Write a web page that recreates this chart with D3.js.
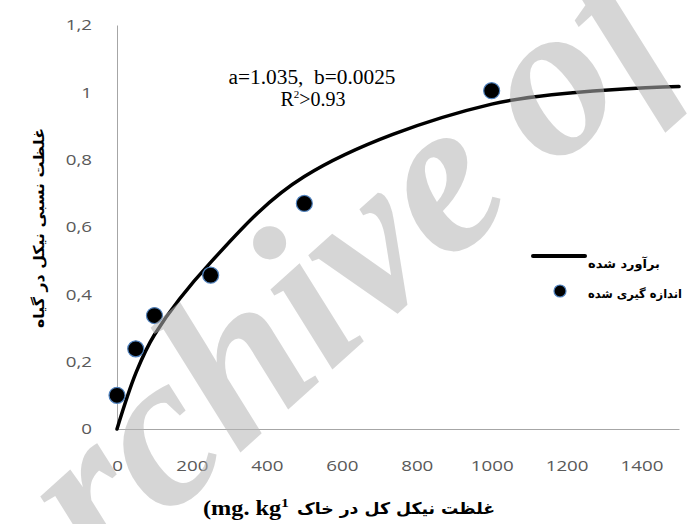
<!DOCTYPE html>
<html>
<head>
<meta charset="utf-8">
<script src="https://cdn.jsdelivr.net/npm/d3@7"></script>
<style>
  body { margin: 0; background: #fff; }
  svg { display: block; }
</style>
</head>
<body>
<div id="chart"></div>
<script>
// measured points (x = soil Ni, y = relative Ni in plant)
var measuredX = [0, 50, 100, 250, 500, 1000];
var measuredY = [0.1, 0.238, 0.337, 0.457, 0.67, 1.005];
// estimated curve
var fitX = [0, 50, 100, 250, 500, 1000, 1500];
var fitY = [0, 0.165, 0.28, 0.495, 0.75, 0.965, 1.017];

var xTicks = [0, 200, 400, 600, 800, 1000, 1200, 1400];
var xTickLabels = ["0", "200", "400", "600", "800", "1000", "1200", "1400"];
var yTicks = [0, 0.2, 0.4, 0.6, 0.8, 1, 1.2];
var yTickLabels = ["0", "0,2", "0,4", "0,6", "0,8", "1", "1,2"];

var w = 692, h = 524;
var svg = d3.select("#chart").append("svg").attr("width", w).attr("height", h);

var x = d3.scaleLinear().domain([0, 1500]).range([117, 679]);
var y = d3.scaleLinear().domain([0, 1.2]).range([429, 25]);

var axisColor = "#a6a6a6";
var tickColor = "#595959";
var stretch = "scale(1.25,1)";

// x axis
var gx = svg.append("g").attr("transform", "translate(0," + y(0) + ")")
    .call(d3.axisBottom(x).tickValues(xTicks).tickFormat(function (d, i) { return xTickLabels[i]; })
        .tickSize(0).tickPadding(31));
gx.select(".domain").attr("stroke", axisColor);
gx.selectAll("text").attr("font-family", "Open Sans").attr("font-size", 15)
    .attr("fill", tickColor).attr("transform", stretch);

// y axis
var gy = svg.append("g").attr("transform", "translate(" + x(0) + ",0)")
    .call(d3.axisLeft(y).tickValues(yTicks).tickFormat(function (d, i) { return yTickLabels[i]; })
        .tickSize(0).tickPadding(20));
gy.select(".domain").attr("stroke", axisColor);
gy.selectAll("text").attr("font-family", "Open Sans").attr("font-size", 15)
    .attr("fill", tickColor).attr("transform", stretch);

// fitted line
var line = d3.line()
    .x(function (d) { return x(d[0]); })
    .y(function (d) { return y(d[1]); })
    .curve(d3.curveCatmullRom.alpha(0.5));
svg.append("path")
    .datum(fitX.map(function (v, i) { return [v, fitY[i]]; }))
    .attr("d", line)
    .attr("fill", "none").attr("stroke", "#000").attr("stroke-width", 3.5)
    .attr("stroke-linecap", "round");

// measured dots
svg.selectAll("circle.pt")
    .data(measuredX)
    .enter().append("circle")
    .attr("class", "pt")
    .attr("cx", function (d) { return x(d); })
    .attr("cy", function (d, i) { return y(measuredY[i]); })
    .attr("r", 8)
    .attr("fill", "#000").attr("stroke", "#4f81bd").attr("stroke-width", 1.2);

// equation text
var eq = svg.append("g").attr("font-family", "Liberation Serif").attr("font-size", 20)
    .attr("text-anchor", "middle").attr("fill", "#000");
eq.append("text").attr("x", 312).attr("y", 84).attr("xml:space", "preserve")
    .attr("textLength", 167).attr("lengthAdjust", "spacingAndGlyphs")
    .text("a=1.035,  b=0.0025");
var r2 = eq.append("text").attr("x", 313).attr("y", 106);
r2.append("tspan").text("R");
r2.append("tspan").attr("font-size", 11).attr("dy", -8).text("2");
r2.append("tspan").attr("dy", 8).text(">0.93");

// axis titles
svg.append("text")
    .attr("transform", "translate(44,228) rotate(-90)")
    .attr("text-anchor", "middle")
    .attr("font-family", "DejaVu Sans").attr("font-weight", "bold").attr("font-size", 15)
    .attr("textLength", 200).attr("lengthAdjust", "spacingAndGlyphs")
    .text("غلظت نسبی نیکل در گیاه");

svg.append("text")
    .attr("x", 297).attr("y", 514)
    .attr("font-family", "DejaVu Sans").attr("font-weight", "bold").attr("font-size", 16)
    .attr("textLength", 198).attr("lengthAdjust", "spacingAndGlyphs")
    .text("غلظت نیکل کل در خاک");
var unit = svg.append("text")
    .attr("x", 203).attr("y", 515)
    .attr("font-family", "Liberation Serif").attr("font-weight", "bold").attr("font-size", 20)
    .attr("textLength", 86).attr("lengthAdjust", "spacingAndGlyphs");
unit.append("tspan").text("(mg. kg");
unit.append("tspan").attr("font-size", 13).attr("dy", -8).text("1");

// legend
svg.append("line").attr("x1", 533).attr("x2", 585).attr("y1", 256).attr("y2", 256)
    .attr("stroke", "#000").attr("stroke-width", 4).attr("stroke-linecap", "round");
svg.append("text").attr("x", 588).attr("y", 268)
    .attr("font-family", "DejaVu Sans").attr("font-weight", "bold").attr("font-size", 12)
    .attr("textLength", 72).attr("lengthAdjust", "spacingAndGlyphs")
    .text("برآورد شده");
svg.append("circle").attr("cx", 560).attr("cy", 291).attr("r", 6)
    .attr("fill", "#000").attr("stroke", "#4f81bd").attr("stroke-width", 1.2);
svg.append("text").attr("x", 588).attr("y", 298)
    .attr("font-family", "DejaVu Sans").attr("font-weight", "bold").attr("font-size", 12)
    .attr("textLength", 94).attr("lengthAdjust", "spacingAndGlyphs")
    .text("اندازه گیری شده");

// watermark
svg.append("text")
    .attr("transform", "translate(-8,676) rotate(-42)")
    .attr("font-family", "Liberation Serif").attr("font-style", "italic").attr("font-weight", "bold")
    .attr("font-size", 220).attr("word-spacing", -10)
    .attr("fill", "#b4b4b4").attr("fill-opacity", 0.55)
    .text("Archive of SID");
</script>
</body>
</html>
